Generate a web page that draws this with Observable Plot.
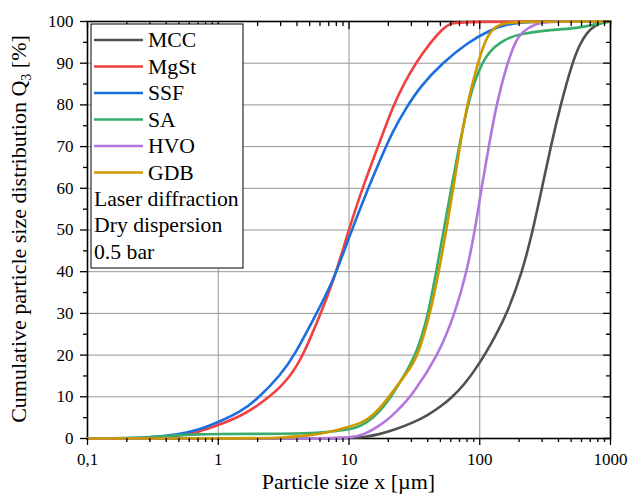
<!DOCTYPE html>
<html><head><meta charset="utf-8">
<script src="https://cdn.jsdelivr.net/npm/d3@7"></script>
<script src="https://cdn.jsdelivr.net/npm/@observablehq/plot@0.6"></script>
<style>html,body{margin:0;padding:0;background:#fff;} svg{display:block}</style>
</head><body><div id="chart"></div>
<script>
// ---- data ----
const names = ["MCC", "MgSt", "SSF", "SA", "HVO", "GDB"];
const colors = ["#515151", "#F14040", "#1A6FDF", "#37AD6B", "#B177DE", "#CC9900"];

const mccX = [0.1, 10, 13, 17, 22, 31, 40, 50, 60, 75, 100, 130, 162, 212, 255, 299, 349, 415, 509, 580, 664, 770, 900, 1000];
const mccQ = [0, 0, 0.3, 1, 2, 3.8, 5.6, 7.6, 9.6, 12.6, 18, 24.2, 30, 40, 50, 60, 70, 80, 90, 94.5, 97.5, 99.2, 99.9, 100];

const mgstX = [0.1, 0.2, 0.3, 0.5, 0.7, 1, 1.5, 2, 2.5, 3, 3.5, 4, 4.5, 5, 6, 7.65, 10, 12.8, 16.9, 21.9, 26.2, 32.3, 42, 52.8, 60, 67, 1000];
const mgstQ = [0, 0, 0.1, 0.6, 1.5, 3.2, 5.4, 7.9, 10.2, 12.4, 14.8, 17.5, 20.5, 23.7, 29.5, 38, 50.2, 60.5, 70.5, 80, 85, 90, 95, 98.5, 99.5, 100, 100];

const ssfX = [0.1, 0.15, 0.3, 0.5, 0.7, 1, 1.5, 2, 3, 3.9, 5.35, 7.65, 10, 14, 17.4, 21.7, 27, 35.2, 51.6, 81, 121, 160, 220, 1000];
const ssfQ = [0, 0, 0.2, 1, 2, 3.9, 6.5, 9.5, 15.2, 20.4, 28.6, 38, 48.3, 60, 67, 73.8, 79, 84.5, 90, 95, 98, 99.3, 100, 100];

const saX = [0.1, 0.2, 0.3, 0.5, 0.7, 1, 2, 5, 7, 10, 12, 14, 17, 20.5, 27, 32.5, 36.6, 40.3, 46.5, 53, 60.6, 69.4, 80.9, 92, 104.2, 120, 144, 170, 205, 300, 500, 650, 800, 1000];
const saQ = [0, 0.05, 0.3, 0.8, 1.0, 1.1, 1.1, 1.2, 1.6, 2.1, 2.9, 4, 6.3, 9.5, 15.5, 20.3, 25.2, 30, 40, 50, 60, 70, 80, 86, 90, 93, 95, 96.2, 97, 97.8, 98.3, 98.8, 99.5, 100];

const hvoX = [0.1, 8, 10, 13, 17.4, 21, 24.8, 29.8, 48.3, 64.7, 79.6, 92, 103, 117.2, 133.7, 162.2, 186, 208.6, 275, 350, 1000];
const hvoQ = [0, 0, 0.2, 0.8, 3.2, 5.2, 7.5, 10, 20, 30, 40, 50, 60, 70, 80, 90, 95, 97.5, 99.7, 100, 100];

const gdbX = [0.1, 2, 3, 5, 7, 10, 12, 14, 17, 20.5, 27, 31, 34.3, 37.5, 41.7, 48.7, 55.5, 62.8, 70.4, 79.6, 96.6, 108.7, 122.9, 144.2, 187.6, 1000];
const gdbQ = [0, 0, 0.2, 0.7, 1.5, 2.8, 3.6, 4.6, 7, 10.2, 15.3, 18, 21, 25, 30, 40, 50, 60, 70, 80, 90, 95, 98, 99.5, 100, 100];

const xTicks = [0.1, 1, 10, 100, 1000];
const xTickLabels = ["0,1", "1", "10", "100", "1000"];
const yTicks = [0, 10, 20, 30, 40, 50, 60, 70, 80, 90, 100];
const yMinor = [5, 15, 25, 35, 45, 55, 65, 75, 85, 95];
const xMinor = [];
for (const d of [0.1, 1, 10, 100]) for (let k = 2; k <= 9; k++) xMinor.push(+(d * k).toPrecision(3));
const xGrid = [1, 10, 100];
const yGrid = [10, 20, 30, 40, 50, 60, 70, 80, 90];
const notes = ["Laser diffraction", "Dry dispersion", "0.5 bar"];
const xTitle = "Particle size x [µm]";

// ---- tidy table ----
const seriesX = [mccX, mgstX, ssfX, saX, hvoX, gdbX];
const seriesQ = [mccQ, mgstQ, ssfQ, saQ, hvoQ, gdbQ];
const table = [];
names.forEach((n, i) => seriesX[i].forEach((x, j) => table.push({name: n, x, q: seriesQ[i][j]})));

const tickShape = {draw(ctx, l) { ctx.moveTo(0, 0); ctx.lineTo(0, -l); }};
const FONT = "'Liberation Serif', 'Times New Roman', serif";

const plot = Plot.plot({
  width: 630, height: 496,
  marginLeft: 87, marginRight: 20, marginTop: 21, marginBottom: 58,
  x: {type: "log", domain: [0.1, 1000]},
  y: {domain: [0, 100]},
  color: {domain: names, range: colors},
  style: {fontFamily: FONT, fontSize: "17px", color: "black", background: "white", overflow: "visible"},
  marks: [
    Plot.gridX(xGrid, {stroke: "#959595", strokeOpacity: 1, strokeWidth: 1}),
    Plot.gridY(yGrid, {stroke: "#959595", strokeOpacity: 1, strokeWidth: 1}),
    Plot.frame({stroke: "black", strokeWidth: 1.6}),
    Plot.line(table, {x: "x", y: "q", z: "name", stroke: "name", strokeWidth: 2.6, curve: "basis"}),
    Plot.axisY(yTicks, {anchor: "left", tickSize: 7, tickPadding: 7, label: null, strokeWidth: 1.3}),
    Plot.axisY(yMinor, {anchor: "left", tickSize: 4, tickFormat: () => "", label: null, strokeWidth: 1.3}),
    Plot.axisX(xTicks, {anchor: "bottom", tickSize: 7, tickPadding: 7, label: null, strokeWidth: 1.3,
      tickFormat: d => xTickLabels[xTicks.indexOf(d)]}),
    Plot.axisX(xMinor, {anchor: "bottom", tickSize: 4, tickFormat: () => "", label: null, strokeWidth: 1.3}),
    Plot.vector(xTicks, {x: d => d, frameAnchor: "top", rotate: 180, length: 7, anchor: "start", shape: tickShape, stroke: "black", strokeWidth: 1.3}),
    Plot.vector(xMinor, {x: d => d, frameAnchor: "top", rotate: 180, length: 4, anchor: "start", shape: tickShape, stroke: "black", strokeWidth: 1.3}),
    Plot.vector(yTicks, {y: d => d, frameAnchor: "right", rotate: -90, length: 7, anchor: "start", shape: tickShape, stroke: "black", strokeWidth: 1.3}),
    Plot.vector(yMinor, {y: d => d, frameAnchor: "right", rotate: -90, length: 4, anchor: "start", shape: tickShape, stroke: "black", strokeWidth: 1.3})
  ]
});

document.getElementById("chart").appendChild(plot);

// ---- titles and legend ----
const svg = d3.select(plot);
svg.append("text")
  .attr("x", 348.5).attr("y", 489)
  .attr("text-anchor", "middle")
  .style("font-family", FONT).style("font-size", "22px").attr("fill", "black")
  .text(xTitle);

const yl = svg.append("text")
  .attr("transform", "translate(26,229) rotate(-90)")
  .attr("text-anchor", "middle")
  .style("font-family", FONT).style("font-size", "22px").attr("fill", "black");
yl.append("tspan").text("Cumulative particle size distribution Q");
yl.append("tspan").attr("dy", 5).style("font-size", "14px").text("3");
yl.append("tspan").attr("dy", -5).text(" [%]");

const lg = svg.append("g").attr("text-anchor", "start");
lg.append("rect").attr("x", 91).attr("y", 24).attr("width", 152).attr("height", 244)
  .attr("fill", "white").attr("stroke", "black").attr("stroke-width", 1);
names.forEach((n, i) => {
  const cy = 40 + i * 26.5;
  lg.append("line").attr("x1", 94).attr("x2", 143).attr("y1", cy).attr("y2", cy)
    .attr("stroke", colors[i]).attr("stroke-width", 2.6);
  lg.append("text").attr("x", 148).attr("y", cy + 7).attr("text-anchor", "start")
    .style("font-family", FONT).style("font-size", "21.7px").attr("fill", "black").text(n);
});
notes.forEach((t, j) => {
  lg.append("text").attr("x", 94).attr("y", 46.7 + 26.5 * (6 + j)).attr("text-anchor", "start")
    .style("font-family", FONT).style("font-size", "21.7px").attr("fill", "black").text(t);
});
</script></body></html>
